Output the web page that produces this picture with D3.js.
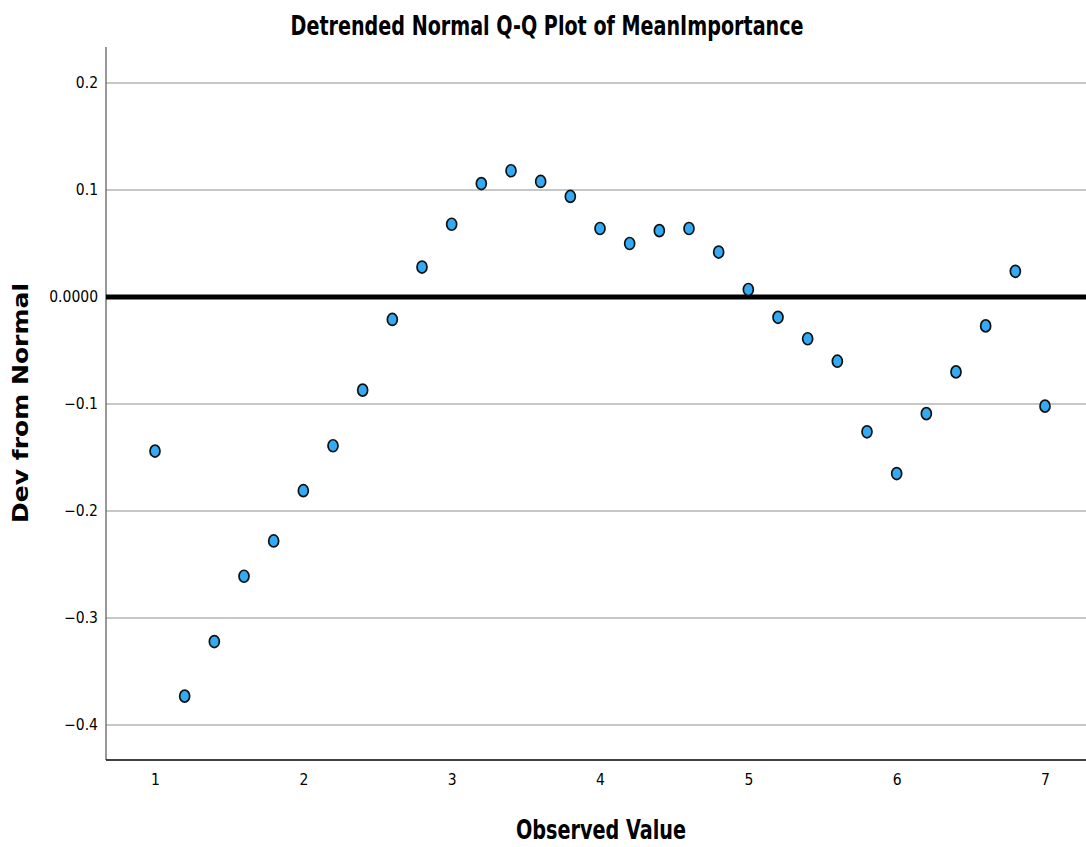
<!DOCTYPE html>
<html>
<head>
<meta charset="utf-8">
<script src="https://cdn.jsdelivr.net/npm/d3@7"></script>
<style>
  html, body { margin: 0; padding: 0; background: #fff; }
  svg { display: block; }
  .cond { font-family: "Liberation Sans Narrow", "DejaVu Sans Condensed", "Arial Narrow", sans-serif; }
</style>
</head>
<body>
<script>
// Observed values (x) and their deviation from the normal expectation (y)
const observed = [1.0, 1.2, 1.4, 1.6, 1.8, 2.0, 2.2, 2.4, 2.6, 2.8, 3.0, 3.2, 3.4, 3.6, 3.8,
                  4.0, 4.2, 4.4, 4.6, 4.8, 5.0, 5.2, 5.4, 5.6, 5.8, 6.0, 6.2, 6.4, 6.6, 6.8, 7.0];
const deviation = [-0.144, -0.373, -0.322, -0.261, -0.228, -0.181, -0.139, -0.087, -0.021, 0.028,
                   0.068, 0.106, 0.118, 0.108, 0.094, 0.064, 0.050, 0.062, 0.064, 0.042,
                   0.007, -0.019, -0.039, -0.060, -0.126, -0.165, -0.109, -0.070, -0.027, 0.024, -0.102];
const xTicks = [1, 2, 3, 4, 5, 6, 7];
const yTicks = [0.2, 0.1, 0.0, -0.1, -0.2, -0.3, -0.4];
const yTickLabels = ["0.2", "0.1", "0.0000", "-0.1", "-0.2", "-0.3", "-0.4"];

const W = 1086, H = 847;
const plotLeft = 106, plotRight = 1086, plotTop = 47, plotBottom = 760;

const x = d3.scaleLinear().domain([1, 7]).range([155, 1045]);
const y = d3.scaleLinear().domain([-0.4, 0.2]).range([725, 83]);

const svg = d3.select("body").append("svg").attr("width", W).attr("height", H);

// Title
svg.append("text").attr("class", "cond")
  .attr("x", 547).attr("y", 35).attr("text-anchor", "middle")
  .attr("font-size", 26).attr("font-weight", "bold").attr("fill", "#000")
  .attr("textLength", 513).attr("lengthAdjust", "spacingAndGlyphs")
  .text("Detrended Normal Q-Q Plot of MeanImportance");

// Horizontal grid lines
svg.append("g").selectAll("line").data(yTicks.filter(d => d !== 0)).join("line")
  .attr("x1", plotLeft).attr("x2", plotRight)
  .attr("y1", d => y(d)).attr("y2", d => y(d))
  .attr("stroke", "#b4b4b4").attr("stroke-width", 1.5);

// Y axis
const yAxis = d3.axisLeft(y).tickValues(yTicks).tickSize(0).tickPadding(8)
  .tickFormat((d, i) => yTickLabels[i].replace("-", "\u2212"));
const gy = svg.append("g").attr("transform", `translate(${plotLeft},0)`).call(yAxis);
gy.select(".domain").remove();
gy.selectAll("text").attr("class", "cond").attr("font-size", 15.5).attr("fill", "#000");
svg.append("line").attr("x1", plotLeft).attr("x2", plotLeft).attr("y1", plotTop).attr("y2", plotBottom)
  .attr("stroke", "#555").attr("stroke-width", 1.2);

// X axis
const xAxis = d3.axisBottom(x).tickValues(xTicks).tickSize(0).tickPadding(14).tickFormat(d3.format("d"));
const gx = svg.append("g").attr("transform", `translate(0,${plotBottom})`).call(xAxis);
gx.select(".domain").remove();
gx.selectAll("text").attr("class", "cond").attr("font-size", 15.5).attr("fill", "#000");
svg.append("line").attr("x1", plotLeft).attr("x2", plotRight).attr("y1", plotBottom).attr("y2", plotBottom)
  .attr("stroke", "#000").attr("stroke-width", 1.5);

// Zero reference line
svg.append("line").attr("x1", plotLeft).attr("x2", plotRight).attr("y1", y(0)).attr("y2", y(0))
  .attr("stroke", "#000").attr("stroke-width", 5);

// Points
svg.append("g").selectAll("ellipse").data(observed).join("ellipse")
  .attr("cx", d => x(d)).attr("cy", (d, i) => y(deviation[i]))
  .attr("rx", 5).attr("ry", 6)
  .attr("fill", "#33aaf5").attr("stroke", "#111").attr("stroke-width", 1.7);

// Axis titles
svg.append("text").attr("class", "cond")
  .attr("x", 601).attr("y", 839).attr("text-anchor", "middle")
  .attr("font-size", 26).attr("font-weight", "bold").attr("fill", "#000")
  .attr("textLength", 170).attr("lengthAdjust", "spacingAndGlyphs")
  .text("Observed Value");

svg.append("text")
  .attr("transform", "translate(28,403) rotate(-90)")
  .attr("text-anchor", "middle")
  .attr("font-family", "'DejaVu Sans', Verdana, sans-serif")
  .attr("font-size", 21).attr("font-weight", "bold").attr("fill", "#000")
  .attr("textLength", 240).attr("lengthAdjust", "spacingAndGlyphs")
  .text("Dev from Normal");
</script>
</body>
</html>
